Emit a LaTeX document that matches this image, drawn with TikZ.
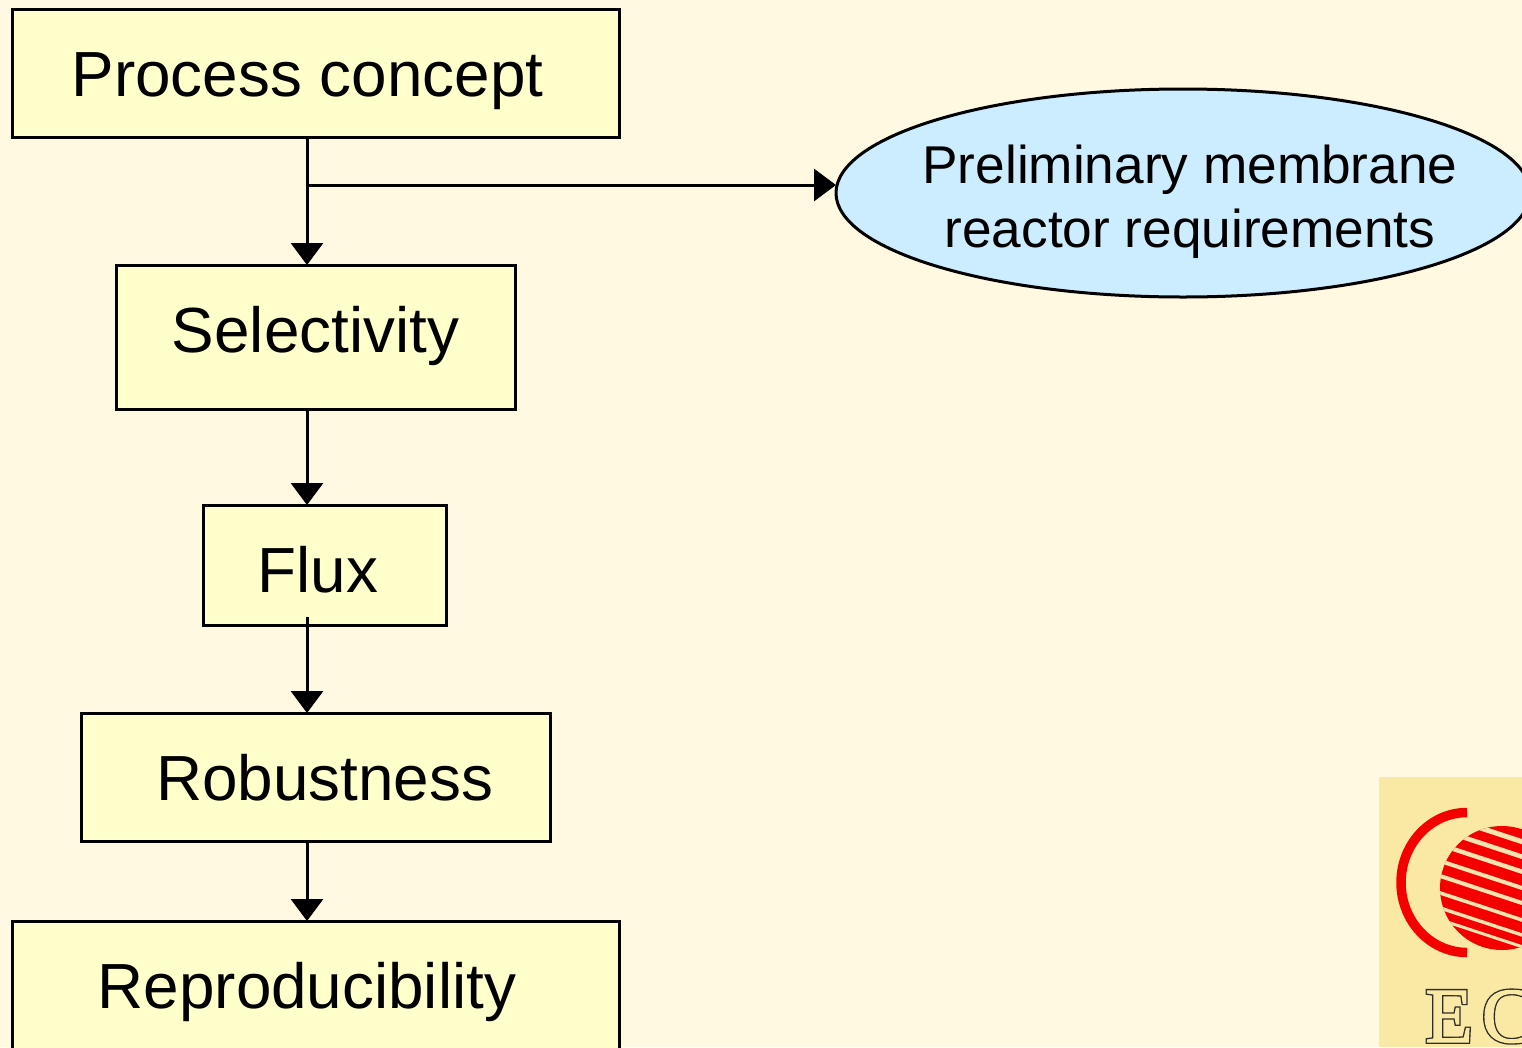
\documentclass[tikz,border=0pt]{standalone}
\usepackage{fontspec}
\setmainfont{Liberation Sans}
\newfontfamily\logoouter{Liberation Serif}[FakeBold=5]
\newfontfamily\logoinner{Liberation Serif}[FakeBold=1.5]
\usetikzlibrary{arrows.meta,shapes.geometric}
\definecolor{pagebg}{HTML}{FFF9E1}
\definecolor{boxfill}{HTML}{FFFFCC}
\definecolor{ellfill}{HTML}{CCECFF}
\definecolor{logobg}{HTML}{FAE8A5}
\definecolor{logored}{HTML}{F40000}
\definecolor{logostripe}{HTML}{FBE3AE}
\definecolor{logoink}{HTML}{2E2E26}
\tikzset{
  x=1pt,y=-1pt,
  flowbox/.style={draw=black,fill=boxfill,line width=3pt,rectangle,inner sep=0pt,outer sep=0pt},
  flowtext/.style={anchor=base,inner sep=0pt,font=\fontsize{63.8}{70}\selectfont},
  elltext/.style={anchor=base,inner sep=0pt,font=\fontsize{53.2}{60}\selectfont},
  conn/.style={draw=black,line width=3pt,-{Triangle[width=32pt,length=22pt]}},
}
\newcommand{\boxat}[5]{\node[flowbox,minimum width=#4-#2,minimum height=#5-#3] (#1) at ({(#2+#4)/2},{(#3+#5)/2}) {};}
\begin{document}
\begin{tikzpicture}
\useasboundingbox (0,0) rectangle (1522,1047);
\clip (0,0) rectangle (1522,1047);
\fill[pagebg] (0,0) rectangle (1522,1047);

% logo
\fill[logobg] (1379,777) rectangle (1522,1047);
\draw[logored,line width=9.5pt] (1467,952.5) arc[start angle=90,end angle=270,x radius=66,y radius=70];
\begin{scope}
  \clip (1502,888) circle[radius=62];
  \fill[logored] (1430,820) rectangle (1530,960);
  \foreach \yy/\ww in {841.7/5,856.7/4.6,871.7/4.4,888/4,903/4,920/3.6,935/3.4,946.7/3}{
    \draw[logostripe,line width=\ww pt] (1422,{\yy-33}) -- (1530,{\yy+2.6});
  }
\end{scope}
\node[anchor=base west,inner sep=0pt,text=logoink,font=\logoouter\fontsize{78}{80}\selectfont] (logoa) at (1425,1042) {E\kern9pt C};
\node[anchor=base west,inner sep=0pt,text=logobg,font=\logoinner\fontsize{78}{80}\selectfont] (logob) at (1425,1042) {E\kern9pt C};

% boxes
\boxat{pc}{12}{9}{619}{137}
\boxat{sel}{116}{265}{515}{409}
\boxat{flux}{203}{505}{446}{625}
\boxat{rob}{81}{713}{550}{841}
\boxat{rep}{12}{921}{619}{1100}
\node[draw=black,fill=ellfill,line width=3pt,ellipse,inner sep=0pt,outer sep=0pt,minimum width=694pt,minimum height=208pt] (ell) at (1183,193) {};

% labels
\node[flowtext] (tpc) at (307.5,96.5) {Process concept};
\node[flowtext] (tsel) at (315.5,352) {Selectivity};
\node[flowtext] (tflux) at (318,592.5) {Flux};
\node[flowtext] (trob) at (324.5,800.5) {Robustness};
\node[flowtext] (trep) at (307,1008.5) {Reproducibility};
\node[elltext] (tella) at (1190,183) {Preliminary membrane};
\node[elltext] (tellb) at (1190,247) {reactor requirements};

% connectors
\coordinate (axis) at (307,0);
\coordinate (branch) at (307,185);
\coordinate (fluxout) at (307,617);
\draw[conn] (pc.south -| axis) -- (sel.north -| axis);
\draw[conn] (branch) -- (836,185 -| ell.west);
\draw[conn] (sel.south -| axis) -- (flux.north -| axis);
\draw[conn] (fluxout) -- (rob.north -| axis);
\draw[conn] (rob.south -| axis) -- (rep.north -| axis);
\end{tikzpicture}
\end{document}
